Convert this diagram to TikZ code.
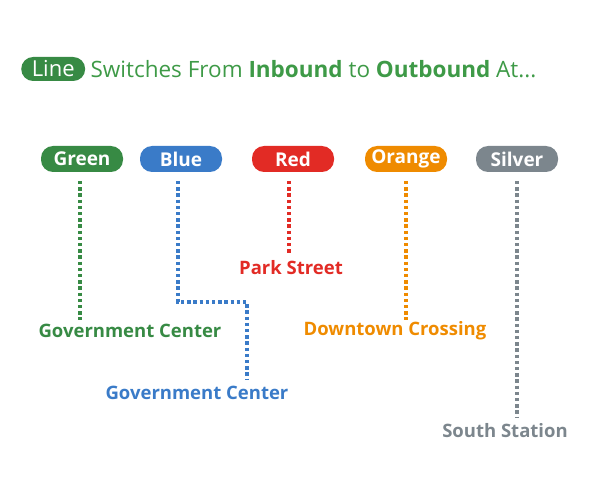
\documentclass[tikz,border=0pt]{standalone}
\usepackage{fontspec}
\setmainfont{Open Sans}
\usetikzlibrary{positioning}
\definecolor{mbtagreen}{HTML}{378A44}
\definecolor{titlegreen}{HTML}{3E9A47}
\definecolor{mbtablue}{HTML}{3A7BC8}
\definecolor{mbtared}{HTML}{E22B25}
\definecolor{mbtaorange}{HTML}{EF8B00}
\definecolor{mbtasilver}{HTML}{7C868D}
\tikzset{
  pill/.style={rounded corners=12pt, fill=#1, text=white, font=\bfseries\fontsize{19}{22}\selectfont,
    minimum width=82pt, minimum height=26pt, inner sep=0pt},
  stop/.style={text=#1, font=\bfseries\fontsize{18.5}{22}\selectfont, inner sep=0pt},
  route/.style={draw=#1, line width=3.6pt, dash pattern=on 3.4pt off 2.8pt}
}
\begin{document}
\begin{tikzpicture}[x=1pt, y=-1pt]
\useasboundingbox (0,0) rectangle (600,500);
\node [pill=mbtagreen, minimum width=64pt, minimum height=24pt, font=\fontsize{22}{24}\selectfont, anchor=west] (tag) at (21,69) {Line};
\node [right=5pt of tag, inner sep=0pt, text=titlegreen, font=\fontsize{22.5}{24}\selectfont] (title)
  {Switches From \textbf{Inbound} to \textbf{Outbound} At...};
\node [pill=mbtagreen] (green) at (82,159) {Green};
\node [pill=mbtablue] (blue) at (181,159) {Blue};
\node [pill=mbtared] (red) at (293,159) {Red};
\node [pill=mbtaorange] (orange) at (406,159) {Orange};
\node [pill=mbtasilver] (silver) at (517,159) {Silver};
\node [stop=mbtagreen] (gc1) at (130,331) {Government Center};
\node [stop=mbtablue] (gc2) at (197,393) {Government Center};
\node [stop=mbtared] (park) at (291,268) {Park Street};
\node [stop=mbtaorange] (dtx) at (395,331) {Downtown Crossing};
\node [stop=mbtasilver] (south) at (505,431) {South Station};
\draw [route=mbtagreen] (80,181) -- (80,320);
\draw [route=mbtablue] (178,181) -- (178,302) -- (247,302) -- (247,380);
\draw [route=mbtared] (289,181) -- (289,255);
\draw [route=mbtaorange] (406,181) -- (406,320);
\draw [route=mbtasilver] (517,181) -- (517,418);
\end{tikzpicture}
\end{document}
